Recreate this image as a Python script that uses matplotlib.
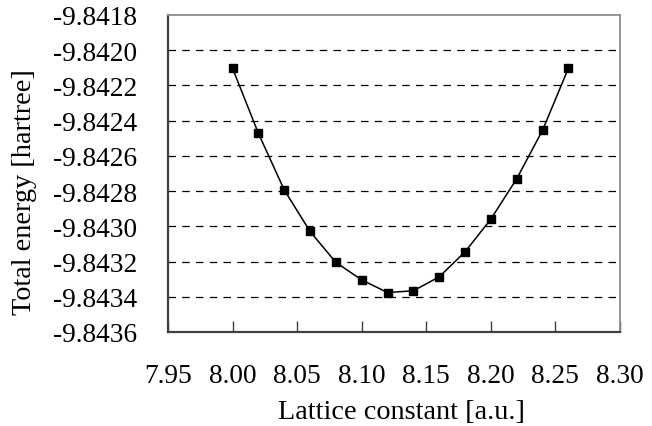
import matplotlib
matplotlib.use("Agg")
import matplotlib.pyplot as plt
import numpy as np

lattice = [8.00, 8.02, 8.04, 8.06, 8.08, 8.10, 8.12, 8.14, 8.16, 8.18, 8.20, 8.22, 8.24, 8.26]
energy = [-9.842103, -9.842472, -9.842793, -9.843029, -9.843205, -9.843304, -9.843376,
          -9.843366, -9.843287, -9.843145, -9.842959, -9.842730, -9.842455, -9.842103]
xticks = [7.95, 8.00, 8.05, 8.10, 8.15, 8.20, 8.25, 8.30]
yticks = [-9.8436, -9.8434, -9.8432, -9.8430, -9.8428, -9.8426, -9.8424, -9.8422, -9.8420, -9.8418]

plt.rcParams['font.family'] = ['Liberation Serif', 'DejaVu Serif']
fs = 19.7
lfs = 20.3

fig = plt.figure(figsize=(6.52, 4.27), dpi=100)
ax = fig.add_axes([168/652, 1-333/427, (620-168)/652, (333-16)/427])

ax.plot(lattice, energy, color='black', lw=1.1, marker='s', ms=6.2, mfc='black', mec='black')

ax.set_xlim(7.95, 8.30)
ax.set_ylim(-9.8436, -9.8418)
ax.set_xticks(xticks)
ax.set_xticklabels([f"{v:.2f}" for v in xticks], fontsize=fs)
ax.set_yticks(yticks)
ax.set_yticklabels([f"{v:.4f}" for v in yticks], fontsize=fs)

for v in yticks[1:-1]:
    ax.axhline(v, color='black', lw=0.9, ls=(0, (6, 5)), zorder=0)

ax.tick_params(axis='x', direction='in', length=8, width=1, color='#404040', pad=22)
ax.tick_params(axis='y', direction='in', length=0, pad=22)

ax.spines['left'].set_color('#404040')
ax.spines['left'].set_linewidth(1.6)
ax.spines['bottom'].set_color('#404040')
ax.spines['bottom'].set_linewidth(1.6)
ax.spines['top'].set_color('#8c8c8c')
ax.spines['top'].set_linewidth(1.3)
ax.spines['right'].set_color('#8c8c8c')
ax.spines['right'].set_linewidth(1.3)

fig.text(401/652, 1-413/427, "Lattice constant [a.u.]", fontsize=lfs, ha='center', va='center')
fig.text(25/652, 1-192/427, "Total energy [hartree]", fontsize=lfs, ha='center', va='center', rotation=90)

fig.savefig("out.png", dpi=100)
